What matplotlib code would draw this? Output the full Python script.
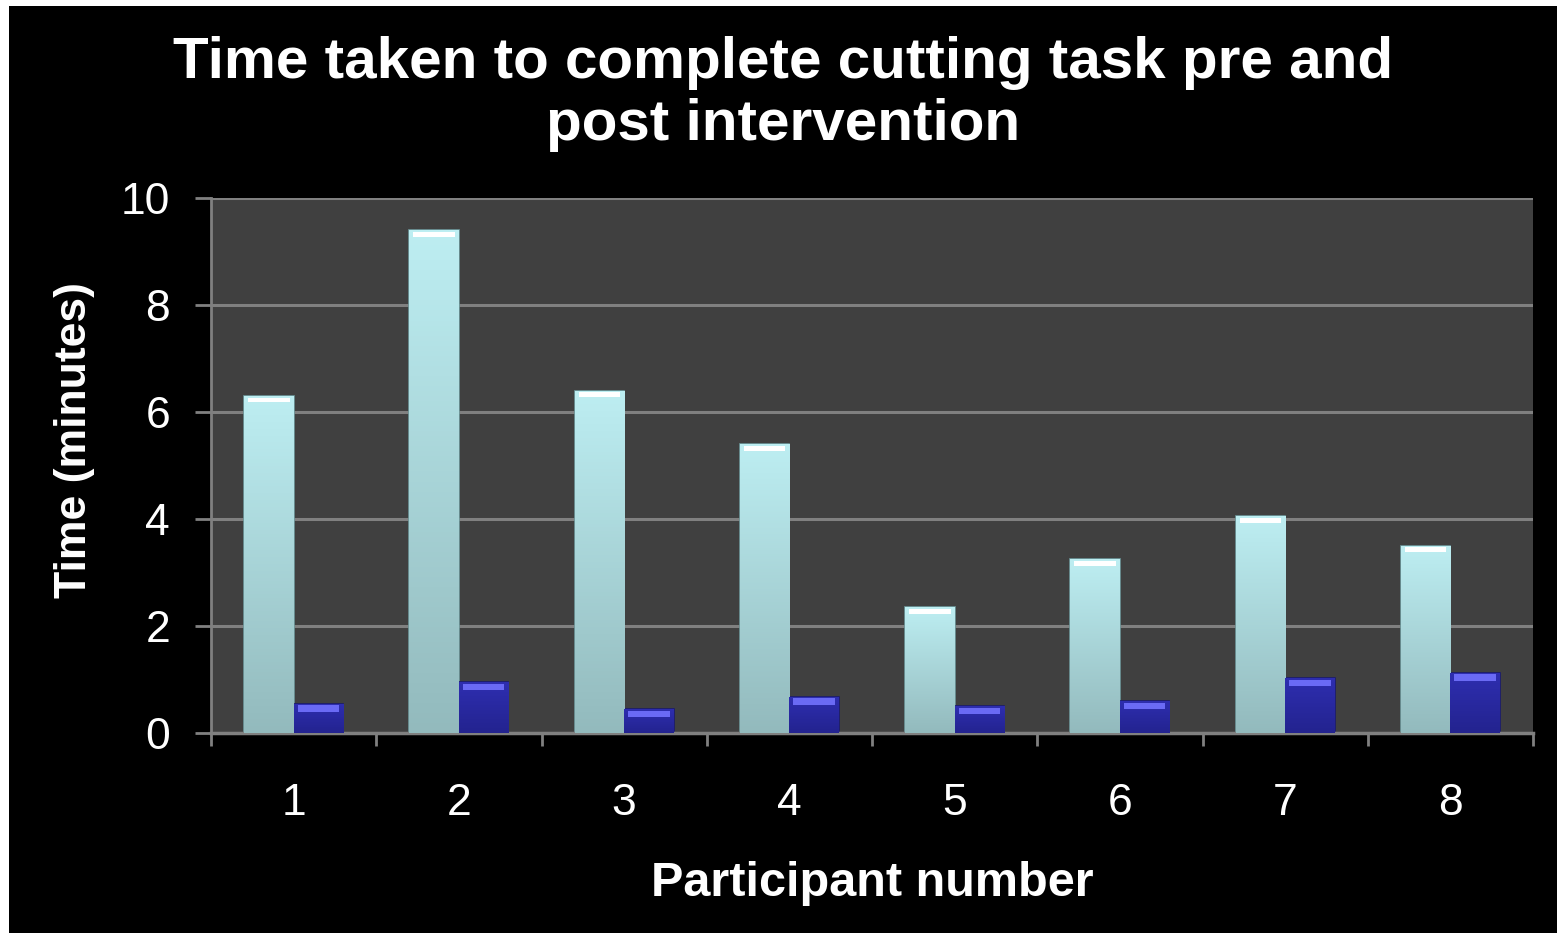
import numpy as np
import matplotlib
matplotlib.use("Agg")
import matplotlib.pyplot as plt
from matplotlib.patches import Rectangle

# data
participants = ['1', '2', '3', '4', '5', '6', '7', '8']
pre = [6.3, 9.4, 6.4, 5.4, 2.35, 3.25, 4.05, 3.5]
post = [0.55, 0.95, 0.45, 0.68, 0.5, 0.6, 1.03, 1.13]
yticks = [0, 2, 4, 6, 8, 10]

plt.rcParams['font.family'] = ['Liberation Sans', 'DejaVu Sans']

fig = plt.figure(figsize=(15.57, 9.33), dpi=100, facecolor='white')
# black chart background with thin white edge top/left
fig.patches.append(Rectangle((9 / 1557, 0), 1, 1 - 6 / 933, transform=fig.transFigure,
                             facecolor='black', edgecolor='none', zorder=-10))

ax = fig.add_axes([211 / 1557, 1 - 733 / 933, 1322 / 1557, 535 / 933])
ax.set_facecolor('#404040')

x = np.arange(len(participants))
w = 0.30

def grad_bars(bars, top_col, bot_col, hi_col, hi_h):
    cmap = matplotlib.colors.LinearSegmentedColormap.from_list('g', [bot_col, top_col])
    grad = np.linspace(0, 1, 100).reshape(-1, 1)
    for b in bars:
        x0, y0 = b.get_x(), b.get_y()
        bw, bh = b.get_width(), b.get_height()
        im = ax.imshow(grad, cmap=cmap, aspect='auto', origin='lower',
                       extent=[x0, x0 + bw, y0, y0 + bh], zorder=3)
        im.set_clip_path(b)
        # light rim at the top
        ax.add_patch(Rectangle((x0 + bw * 0.08, y0 + bh - 0.03 - hi_h), bw * 0.84, hi_h,
                               facecolor=hi_col, edgecolor='none', zorder=4))

pre_bars = ax.bar(x - 0.15, pre, w, color='#a8d6da', edgecolor='#6f9a9d', linewidth=1.2, zorder=2)
post_bars = ax.bar(x + 0.15, post, w, color='#2a2aa0', edgecolor='#1a1a70', linewidth=1.2, zorder=2)
grad_bars(pre_bars, '#bdeef2', '#93babd', '#ffffff', 0.09)
grad_bars(post_bars, '#2e2eb0', '#23238f', '#6a6af5', 0.12)

ax.set_xlim(-0.5, len(participants) - 0.5)
ax.set_ylim(0, 10)
ax.set_yticks(yticks)
ax.set_xticks(x)
ax.set_xticklabels(participants)
ax.set_xticks(np.arange(-0.5, len(participants)), minor=True)

ax.grid(axis='y', color='#808080', linewidth=2.2, zorder=1)
ax.set_axisbelow(True)

for s in ['top', 'right']:
    ax.spines[s].set_visible(False)
ax.spines['left'].set_color('#808080')
ax.spines['left'].set_linewidth(2)
ax.spines['bottom'].set_color('#808080')
ax.spines['bottom'].set_linewidth(2.5)

ax.tick_params(axis='y', colors='#808080', labelcolor='white', labelsize=32,
               length=11.5, width=2, pad=18)
ax.tick_params(axis='x', which='major', length=0, labelcolor='white', labelsize=32, pad=36)
ax.tick_params(axis='x', which='minor', colors='#808080', length=9, width=2)

ax.set_ylabel('Time (minutes)', color='white', fontsize=32, fontweight='bold')
ax.yaxis.set_label_coords(-0.088, 0.548)
ax.set_xlabel('Participant number', color='white', fontsize=35, fontweight='bold')
ax.xaxis.set_label_coords(0.5, -0.239)

fig.text(0.503, 1 - 94 / 933, 'Time taken to complete cutting task pre and\npost intervention',
         ha='center', va='center', color='white', fontsize=42, fontweight='bold',
         linespacing=1.18)

plt.savefig('out.png', dpi=100, facecolor=fig.get_facecolor())
